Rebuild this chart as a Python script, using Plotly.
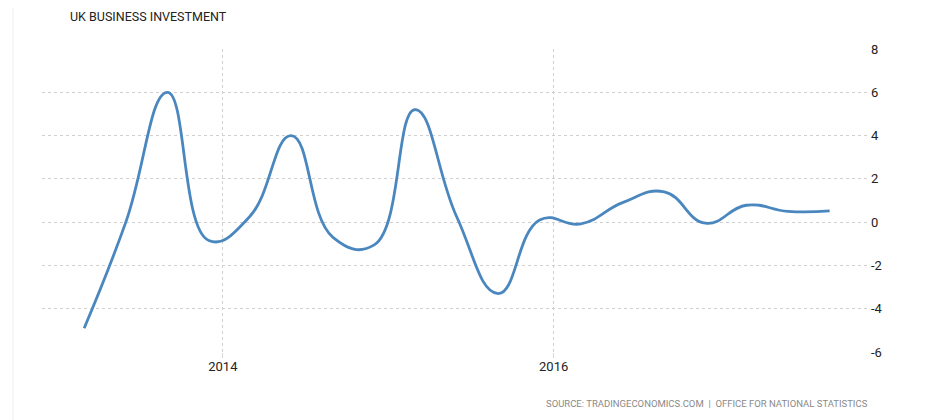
import plotly.graph_objects as go

dates = ["2013-03-01", "2013-06-01", "2013-09-01", "2013-12-01",
         "2014-03-01", "2014-06-01", "2014-09-01", "2014-12-01",
         "2015-03-01", "2015-06-01", "2015-09-01", "2015-12-01",
         "2016-03-01", "2016-06-01", "2016-09-01", "2016-12-01",
         "2017-03-01", "2017-06-01", "2017-09-01"]
values = [-4.9, 0.0, 6.0, -0.85, 0.25, 4.0, -0.7, -1.05, 5.2, 0.25, -3.3,
          0.1, -0.08, 0.9, 1.4, -0.05, 0.78, 0.5, 0.52]
y_ticks = [8, 6, 4, 2, 0, -2, -4, -6]
title_text = "UK BUSINESS INVESTMENT"
source_text = "SOURCE: TRADINGECONOMICS.COM  |  OFFICE FOR NATIONAL STATISTICS"

# page body has an 8px margin, so the figure starts at (8, 8)
OFF = 8
W, H = 939 - OFF, 420 - OFF
L, R, T, B = 42 - OFF, 69, 49 - OFF, 68
PW, PH = W - L - R, H - T - B

fig = go.Figure()
fig.add_trace(go.Scatter(
    x=dates, y=values, mode="lines",
    line=dict(color="#4A87BF", width=2.8, shape="spline", smoothing=1.3),
    hoverinfo="x+y", showlegend=False,
))

fig.update_layout(
    width=W, height=H,
    margin=dict(l=L, r=R, t=T, b=B, pad=0),
    paper_bgcolor="white", plot_bgcolor="white",
    font=dict(family="Roboto", size=13, color="#222"),
    title=dict(text=title_text, x=(70 - OFF) / W, xanchor="left",
               y=1 - (17 - OFF) / H, yanchor="middle",
               font=dict(family="Roboto", size=12.5, color="#222")),
    xaxis=dict(
        type="date",
        range=["2012-11-28", "2017-11-29"],
        tick0="2014-01-01", dtick="M24", tickformat="%Y",
        showgrid=True, gridcolor="#d0d0d0", griddash="dot", gridwidth=1,
        ticks="outside", ticklen=5, tickcolor="#d8d8d8",
        ticklabelstandoff=-3,
        showline=False, zeroline=False,
        tickfont=dict(family="Roboto", size=13, color="#222"),
    ),
    yaxis=dict(
        side="right", range=[-6, 8],
        tickvals=y_ticks, ticktext=[str(v) for v in y_ticks],
        showgrid=True, gridcolor="#d0d0d0", griddash="dot", gridwidth=1,
        zeroline=False, showline=False, ticks="",
        tickfont=dict(family="Roboto", size=13, color="#222"),
    ),
    annotations=[dict(
        text=source_text, xref="paper", yref="paper",
        x=1.0, xanchor="right", y=-((403 - OFF) - (H - B)) / PH, yanchor="middle",
        showarrow=False, font=dict(family="Roboto", size=9.5, color="#8a8a8a"),
    )],
    shapes=[dict(type="line", xref="paper", yref="paper",
                 x0=(13 - 42) / PW, x1=(13 - 42) / PW,
                 y0=-(B + OFF) / PH, y1=(H - B) / PH,
                 line=dict(color="#eeeeee", width=1))],
)

fig.write_html("out.html")
